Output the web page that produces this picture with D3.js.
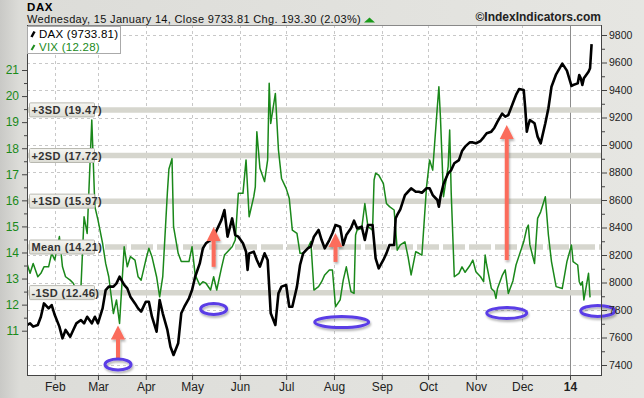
<!DOCTYPE html>
<html><head><meta charset="utf-8">
<script src="https://cdn.jsdelivr.net/npm/d3@7"></script>
<style>
html,body{margin:0;padding:0;background:#e3e3df;}
body{width:644px;height:398px;overflow:hidden;font-family:"Liberation Sans",Arial,sans-serif;}
</style></head><body>
<svg id="chart" width="644" height="398"></svg>
<script>
// ---------- DATA ----------
const daxDates = ["2013-01-14","2013-01-16","2013-01-18","2013-01-21","2013-01-23","2013-01-25","2013-01-28","2013-01-30","2013-02-01","2013-02-04","2013-02-06","2013-02-08","2013-02-11","2013-02-13","2013-02-15","2013-02-18","2013-02-20","2013-02-22","2013-02-25","2013-02-27","2013-03-01","2013-03-04","2013-03-06","2013-03-08","2013-03-11","2013-03-13","2013-03-15","2013-03-18","2013-03-20","2013-03-22","2013-03-25","2013-03-27","2013-03-29","2013-04-01","2013-04-03","2013-04-05","2013-04-08","2013-04-10","2013-04-12","2013-04-15","2013-04-17","2013-04-19","2013-04-22","2013-04-24","2013-04-26","2013-04-29","2013-05-01","2013-05-03","2013-05-06","2013-05-08","2013-05-10","2013-05-13","2013-05-15","2013-05-17","2013-05-20","2013-05-22","2013-05-24","2013-05-27","2013-05-29","2013-05-31","2013-06-03","2013-06-05","2013-06-06","2013-06-07","2013-06-10","2013-06-12","2013-06-14","2013-06-17","2013-06-19","2013-06-21","2013-06-24","2013-06-26","2013-06-28","2013-07-01","2013-07-03","2013-07-05","2013-07-08","2013-07-10","2013-07-12","2013-07-15","2013-07-17","2013-07-19","2013-07-22","2013-07-24","2013-07-26","2013-07-29","2013-07-31","2013-08-02","2013-08-05","2013-08-07","2013-08-09","2013-08-12","2013-08-14","2013-08-16","2013-08-19","2013-08-21","2013-08-23","2013-08-26","2013-08-28","2013-08-30","2013-09-02","2013-09-04","2013-09-06","2013-09-09","2013-09-10","2013-09-11","2013-09-13","2013-09-16","2013-09-18","2013-09-20","2013-09-23","2013-09-25","2013-09-27","2013-09-30","2013-10-02","2013-10-04","2013-10-07","2013-10-08","2013-10-09","2013-10-11","2013-10-14","2013-10-16","2013-10-18","2013-10-21","2013-10-23","2013-10-25","2013-10-28","2013-10-30","2013-11-01","2013-11-04","2013-11-06","2013-11-08","2013-11-11","2013-11-13","2013-11-15","2013-11-18","2013-11-20","2013-11-22","2013-11-25","2013-11-27","2013-11-29","2013-12-02","2013-12-03","2013-12-04","2013-12-05","2013-12-06","2013-12-09","2013-12-11","2013-12-13","2013-12-16","2013-12-18","2013-12-20","2013-12-23","2013-12-27","2013-12-30","2014-01-02","2014-01-03","2014-01-06","2014-01-07","2014-01-08","2014-01-09","2014-01-10","2014-01-13","2014-01-14","2014-01-15"];
const daxValues = [7691,7703,7679,7691,7751,7848,7812,7836,7763,7679,7594,7655,7606,7655,7703,7727,7703,7751,7703,7751,7703,7812,7945,7970,7970,7994,8042,7982,7957,7897,7848,7812,7788,7860,7860,7751,7642,7873,7776,7655,7533,7473,7558,7776,7824,7885,7945,8042,8139,8248,8285,8309,8333,8382,8454,8527,8333,8466,8345,8333,8285,8224,8091,8212,8224,8164,8115,8212,8164,7776,7691,7921,7970,7982,7824,7824,7970,8127,8212,8248,8261,8333,8382,8309,8248,8309,8358,8418,8406,8273,8345,8394,8450,8394,8406,8309,8418,8418,8176,8103,8164,8212,8273,8273,8467,8491,8532,8636,8660,8685,8660,8660,8653,8685,8685,8636,8600,8551,8624,8716,8794,8818,8867,8890,8956,8988,9019,9019,9012,9029,9056,9085,9097,9126,9170,9228,9206,9218,9305,9364,9407,9400,9267,9097,9145,9182,9158,9061,9012,9158,9267,9424,9514,9592,9541,9429,9436,9448,9509,9485,9436,9485,9533,9558,9733.81];

const vixDates = ["2013-01-14","2013-01-16","2013-01-18","2013-01-21","2013-01-23","2013-01-25","2013-01-28","2013-01-30","2013-02-01","2013-02-04","2013-02-06","2013-02-08","2013-02-11","2013-02-13","2013-02-15","2013-02-18","2013-02-20","2013-02-22","2013-02-25","2013-02-27","2013-03-01","2013-03-04","2013-03-06","2013-03-08","2013-03-11","2013-03-13","2013-03-15","2013-03-18","2013-03-20","2013-03-22","2013-03-25","2013-03-27","2013-03-29","2013-04-01","2013-04-03","2013-04-05","2013-04-08","2013-04-10","2013-04-12","2013-04-15","2013-04-16","2013-04-17","2013-04-18","2013-04-19","2013-04-22","2013-04-24","2013-04-26","2013-04-29","2013-05-01","2013-05-03","2013-05-06","2013-05-08","2013-05-10","2013-05-13","2013-05-15","2013-05-17","2013-05-20","2013-05-22","2013-05-24","2013-05-27","2013-05-29","2013-05-31","2013-06-03","2013-06-05","2013-06-07","2013-06-10","2013-06-11","2013-06-12","2013-06-14","2013-06-17","2013-06-19","2013-06-20","2013-06-21","2013-06-24","2013-06-26","2013-06-28","2013-07-01","2013-07-03","2013-07-05","2013-07-08","2013-07-10","2013-07-12","2013-07-15","2013-07-17","2013-07-19","2013-07-22","2013-07-24","2013-07-26","2013-07-29","2013-07-31","2013-08-02","2013-08-05","2013-08-07","2013-08-09","2013-08-12","2013-08-14","2013-08-15","2013-08-16","2013-08-19","2013-08-21","2013-08-23","2013-08-26","2013-08-27","2013-08-28","2013-08-30","2013-09-02","2013-09-04","2013-09-06","2013-09-09","2013-09-11","2013-09-13","2013-09-16","2013-09-18","2013-09-20","2013-09-23","2013-09-25","2013-09-27","2013-09-30","2013-10-02","2013-10-04","2013-10-07","2013-10-08","2013-10-09","2013-10-11","2013-10-14","2013-10-15","2013-10-16","2013-10-18","2013-10-21","2013-10-23","2013-10-25","2013-10-28","2013-10-30","2013-11-01","2013-11-04","2013-11-06","2013-11-07","2013-11-08","2013-11-11","2013-11-13","2013-11-14","2013-11-15","2013-11-18","2013-11-20","2013-11-22","2013-11-25","2013-11-27","2013-11-29","2013-12-02","2013-12-04","2013-12-05","2013-12-06","2013-12-09","2013-12-11","2013-12-13","2013-12-16","2013-12-18","2013-12-20","2013-12-23","2013-12-27","2013-12-30","2014-01-02","2014-01-03","2014-01-06","2014-01-07","2014-01-08","2014-01-09","2014-01-10","2014-01-13","2014-01-14"];
const vixValues = [13.58,13.20,13.58,13.07,13.20,13.45,13.45,13.97,13.71,14.61,13.45,13.07,12.94,12.82,12.56,12.69,15.37,14.73,19.08,15.76,15.25,14.35,13.58,13.07,11.66,12.18,11.28,14.22,13.45,13.84,13.71,13.07,12.94,13.71,14.16,13.84,13.07,12.30,13.07,16.30,17.20,17.40,17.60,14.99,13.97,13.65,13.65,13.65,14.22,13.14,12.75,12.88,12.82,12.56,13.07,12.56,13.39,13.90,14.03,14.22,14.48,16.27,16.27,17.55,15.37,16.14,16.52,18.63,17.23,16.72,17.55,20.49,18.95,20.10,17.93,16.84,16.46,16.08,14.86,14.73,13.97,13.97,14.16,14.42,12.56,12.69,12.88,13.14,13.33,13.33,11.92,12.18,12.94,13.45,12.50,12.43,14.67,14.86,14.93,15.88,14.99,14.86,16.78,17.04,16.97,16.65,15.88,15.76,15.63,14.09,14.29,14.41,13.84,13.14,14.03,13.97,13.90,16.52,17.55,17.16,19.59,20.36,19.21,16.14,17.29,18.70,16.27,13.07,13.20,13.45,13.24,13.49,13.71,13.26,13.07,12.88,13.90,13.52,12.62,12.50,12.24,12.62,13.11,13.33,12.43,12.91,13.52,13.88,14.41,14.93,15.05,14.29,13.58,15.31,15.56,16.14,14.67,13.65,12.69,12.62,13.65,14.29,13.65,13.52,12.88,12.75,12.88,12.18,13.20,12.28];

const monthTicks = ["2013-02-01","2013-03-01","2013-04-01","2013-05-01","2013-06-01","2013-07-01","2013-08-01","2013-09-01","2013-10-01","2013-11-01","2013-12-01","2014-01-01"];
const monthLabels = ["Feb","Mar","Apr","May","Jun","Jul","Aug","Sep","Oct","Nov","Dec","14"];
const vixTicks = [11,12,13,14,15,16,17,18,19,20,21];
const daxTicks = [7400,7600,7800,8000,8200,8400,8600,8800,9000,9200,9400,9600,9800];
const sdLevels = [19.47,17.72,15.97,14.21,12.46];
const sdLabels = ["+3SD (19.47)","+2SD (17.72)","+1SD (15.97)","Mean (14.21)","-1SD (12.46)"];
// annotation arrows (date, VIX value at tail, VIX value at tip)
const arrowDates = ["2013-03-14","2013-05-15","2013-08-02","2013-11-21"];
const arrowFrom = [9.9,13.45,13.64,13.71];
const arrowTo = [11.2,14.98,14.75,18.89];
// annotation ellipses (date, VIX value)
const ellipseDates = ["2013-03-14","2013-05-15","2013-08-06","2013-11-21","2014-01-19"];
const ellipseVix = [9.70,11.83,11.33,11.68,11.76];
const ellipseRx = [13,13,27,20,17];

// ---------- CHART ----------
const W = 644, H = 398;
const L = 27, R = 602, T = 25, B = 376;
const parse = d3.timeParse("%Y-%m-%d");
const svg = d3.select("#chart");
const defs = svg.append("defs");

const bgGrad = defs.append("linearGradient").attr("id","bg").attr("x1","0").attr("x2","1").attr("y1","0").attr("y2","0");
bgGrad.append("stop").attr("offset","0").attr("stop-color","#c9c9c6");
bgGrad.append("stop").attr("offset","0.03").attr("stop-color","#dcdcd8");
bgGrad.append("stop").attr("offset","1").attr("stop-color","#e6e6e2");
const lblGrad = defs.append("linearGradient").attr("id","lbl").attr("x1","0").attr("x2","0").attr("y1","0").attr("y2","1");
lblGrad.append("stop").attr("offset","0").attr("stop-color","#f6f6f2");
lblGrad.append("stop").attr("offset","1").attr("stop-color","#dcdcd4");
const sh = defs.append("filter").attr("id","shadow").attr("x","-30%").attr("y","-30%").attr("width","160%").attr("height","180%");
sh.append("feDropShadow").attr("dx",1).attr("dy",2).attr("stdDeviation",1.2).attr("flood-color","#000").attr("flood-opacity",0.3);
defs.append("clipPath").attr("id","clip").append("rect").attr("x",L).attr("y",T).attr("width",R-L).attr("height",B-T);

svg.append("rect").attr("width",W).attr("height",H).attr("fill","url(#bg)");
svg.append("rect").attr("x",L).attr("y",T).attr("width",R-L).attr("height",B-T).attr("fill","#fff");

const x = d3.scaleTime().domain([parse("2013-01-14"), parse("2014-01-01")]).range([L, 570]);
const yDax = d3.scaleLinear().domain([7400, 9800]).range([365, 35]);
const yVix = d3.scaleLinear().domain([11, 21]).range([330.7, 70]);

const plot = svg.append("g").attr("clip-path","url(#clip)");

// grid
plot.selectAll(".hg").data(daxTicks).join("line")
  .attr("x1",L).attr("x2",R).attr("y1",d=>Math.round(yDax(d))+0.5).attr("y2",d=>Math.round(yDax(d))+0.5)
  .attr("stroke","#c8c8c8").attr("stroke-dasharray","3,3");
plot.selectAll(".vg").data(monthTicks).join("line")
  .attr("x1",d=>Math.round(x(parse(d)))+0.5).attr("x2",d=>Math.round(x(parse(d)))+0.5).attr("y1",T).attr("y2",B)
  .attr("stroke",(d,i)=> i===monthTicks.length-1 ? "#8c8c8c" : "#c8c8c8")
  .attr("stroke-dasharray",(d,i)=> i===monthTicks.length-1 ? null : "3,3");

// SD bands
plot.selectAll(".sd").data(sdLevels).join("line")
  .attr("x1",L).attr("x2",R).attr("y1",d=>yVix(d)).attr("y2",d=>yVix(d))
  .attr("stroke","#d6d6ce").attr("stroke-width",5.5)
  .attr("stroke-dasharray",(d,i)=> i===3 ? "22,4" : null);

// lines
const vixData = vixDates.map((d,i)=>({date:parse(d), v:vixValues[i]}));
const daxData = daxDates.map((d,i)=>({date:parse(d), v:daxValues[i]}));
plot.append("path").datum(vixData)
  .attr("d", d3.line().x(d=>x(d.date)).y(d=>yVix(d.v)))
  .attr("fill","none").attr("stroke","#1a881a").attr("stroke-width",1.5).attr("stroke-linejoin","round");
plot.append("path").datum(daxData)
  .attr("d", d3.line().x(d=>x(d.date)).y(d=>yDax(d.v)))
  .attr("fill","none").attr("stroke","#000").attr("stroke-width",2.6).attr("stroke-linejoin","round");

// SD labels
const sdg = svg.append("g");
sdLevels.forEach((lv,i)=>{
  const cy = yVix(lv);
  sdg.append("rect").attr("x",29.5).attr("y",cy-7).attr("width",65).attr("height",14)
    .attr("fill","url(#lbl)").attr("stroke","#b8b8b0").attr("stroke-width",1).attr("rx",1);
  sdg.append("text").attr("x",31.5).attr("y",cy+4).text(sdLabels[i])
    .attr("font-size","11px").attr("font-weight","bold").attr("letter-spacing","0.4px").attr("fill","#333");
});

// annotations
const ann = svg.append("g").attr("filter","url(#shadow)");
arrowDates.forEach((d,i)=>{
  const ax = x(parse(d)), y0 = yVix(arrowFrom[i]), y1 = yVix(arrowTo[i]);
  ann.append("rect").attr("x",ax-2).attr("y",y1+12).attr("width",4).attr("height",y0-y1-12).attr("fill","#fb6c5c");
  ann.append("path").attr("d",`M${ax},${y1} L${ax-7},${y1+14} L${ax+7},${y1+14} Z`).attr("fill","#fb6c5c");
});
ellipseDates.forEach((d,i)=>{
  ann.append("ellipse").attr("cx",x(parse(d))).attr("cy",yVix(ellipseVix[i]))
    .attr("rx",ellipseRx[i]).attr("ry",5.5).attr("fill","none").attr("stroke","#5a3ce6").attr("stroke-width",3);
});

// frame
svg.append("rect").attr("x",L+0.5).attr("y",T+0.5).attr("width",R-L-1).attr("height",B-T-1)
  .attr("fill","none").attr("stroke","#888");
svg.append("line").attr("x1",L+0.5).attr("x2",L+0.5).attr("y1",T).attr("y2",B).attr("stroke","#444");
svg.append("line").attr("x1",L).attr("x2",R).attr("y1",B-0.5).attr("y2",B-0.5).attr("stroke","#444");
svg.append("line").attr("x1",R-0.5).attr("x2",R-0.5).attr("y1",T).attr("y2",B).attr("stroke","#444");

// axes
const leftAxis = d3.axisLeft(yVix).tickValues(vixTicks).tickSize(5).tickPadding(3).tickFormat(d3.format("d"));
const lg = svg.append("g").attr("transform",`translate(${L},0)`).call(leftAxis);
lg.select(".domain").remove();
lg.selectAll("line").attr("stroke","#444");
lg.selectAll("text").attr("fill","#1a8a1a").attr("font-size","12px").attr("font-family","Liberation Sans, Arial, sans-serif");
const leftMinor = d3.axisLeft(yVix).tickValues(vixTicks.map(v=>v+0.5).filter(v=>v<21.5)).tickSize(3).tickFormat("");
const lgm = svg.append("g").attr("transform",`translate(${L},0)`).call(leftMinor);
lgm.select(".domain").remove(); lgm.selectAll("line").attr("stroke","#444");

const rightAxis = d3.axisRight(yDax).tickValues(daxTicks).tickSize(5).tickPadding(2).tickFormat(d3.format("d"));
const rg = svg.append("g").attr("transform",`translate(${R},0)`).call(rightAxis);
rg.select(".domain").remove();
rg.selectAll("line").attr("stroke","#444");
rg.selectAll("text").attr("fill","#222").attr("font-size","10.5px").attr("font-family","Liberation Sans, Arial, sans-serif");
const rightMinor = d3.axisRight(yDax).tickValues(daxTicks.map(v=>v+100).filter(v=>v<9850)).tickSize(3).tickFormat("");
const rgm = svg.append("g").attr("transform",`translate(${R},0)`).call(rightMinor);
rgm.select(".domain").remove(); rgm.selectAll("line").attr("stroke","#444");

const bottomAxis = d3.axisBottom(x).tickValues(monthTicks.map(parse)).tickSize(4).tickPadding(2)
  .tickFormat((d,i)=>monthLabels[i]);
const bg = svg.append("g").attr("transform",`translate(0,${B})`).call(bottomAxis);
bg.select(".domain").remove();
bg.selectAll("line").attr("stroke","#444");
bg.selectAll("text").attr("fill","#222").attr("font-size","12px").attr("font-family","Liberation Sans, Arial, sans-serif")
  .attr("font-weight",(d,i)=> i===monthLabels.length-1 ? "bold" : "normal");

// legend
const leg = svg.append("g");
leg.append("rect").attr("x",27.5).attr("y",26.5).attr("width",93).attr("height",27).attr("fill","#fff").attr("stroke","#aaa");
leg.append("line").attr("x1",31.5).attr("y1",37).attr("x2",34.5).attr("y2",31.5).attr("stroke","#000").attr("stroke-width",2.5);
leg.append("line").attr("x1",31.5).attr("y1",50).attr("x2",34.5).attr("y2",45).attr("stroke","#1e8c1e").attr("stroke-width",2);
leg.append("text").attr("x",39).attr("y",38).text("DAX (9733.81)").attr("font-size","11.5px").attr("letter-spacing","0.25px").attr("fill","#000");
leg.append("text").attr("x",39).attr("y",51).text("VIX (12.28)").attr("font-size","11.5px").attr("letter-spacing","0.25px").attr("fill","#1a8a1a");

// header
svg.append("text").attr("x",27).attr("y",10.6).text("DAX").attr("font-size","11.5px").attr("font-weight","bold").attr("letter-spacing","0.6px").attr("fill","#000");
const sub = svg.append("text").attr("x",27).attr("y",23).text("Wednesday, 15 January 14, Close 9733.81 Chg. 193.30 (2.03%)")
  .attr("font-size","11px").attr("letter-spacing","0.33px").attr("fill","#111");
const sw = sub.node().getComputedTextLength();
const tx = 27 + sw + 3;
svg.append("path").attr("d",`M${tx},${22.5} L${tx+11},${22.5} L${tx+5.5},${17.5} Z`).attr("fill","#1a9a1a");
svg.append("text").attr("x",601).attr("y",20.5).attr("text-anchor","end").text("©IndexIndicators.com")
  .attr("font-size","12px").attr("font-weight","bold").attr("fill","#222");
</script>
</body></html>
